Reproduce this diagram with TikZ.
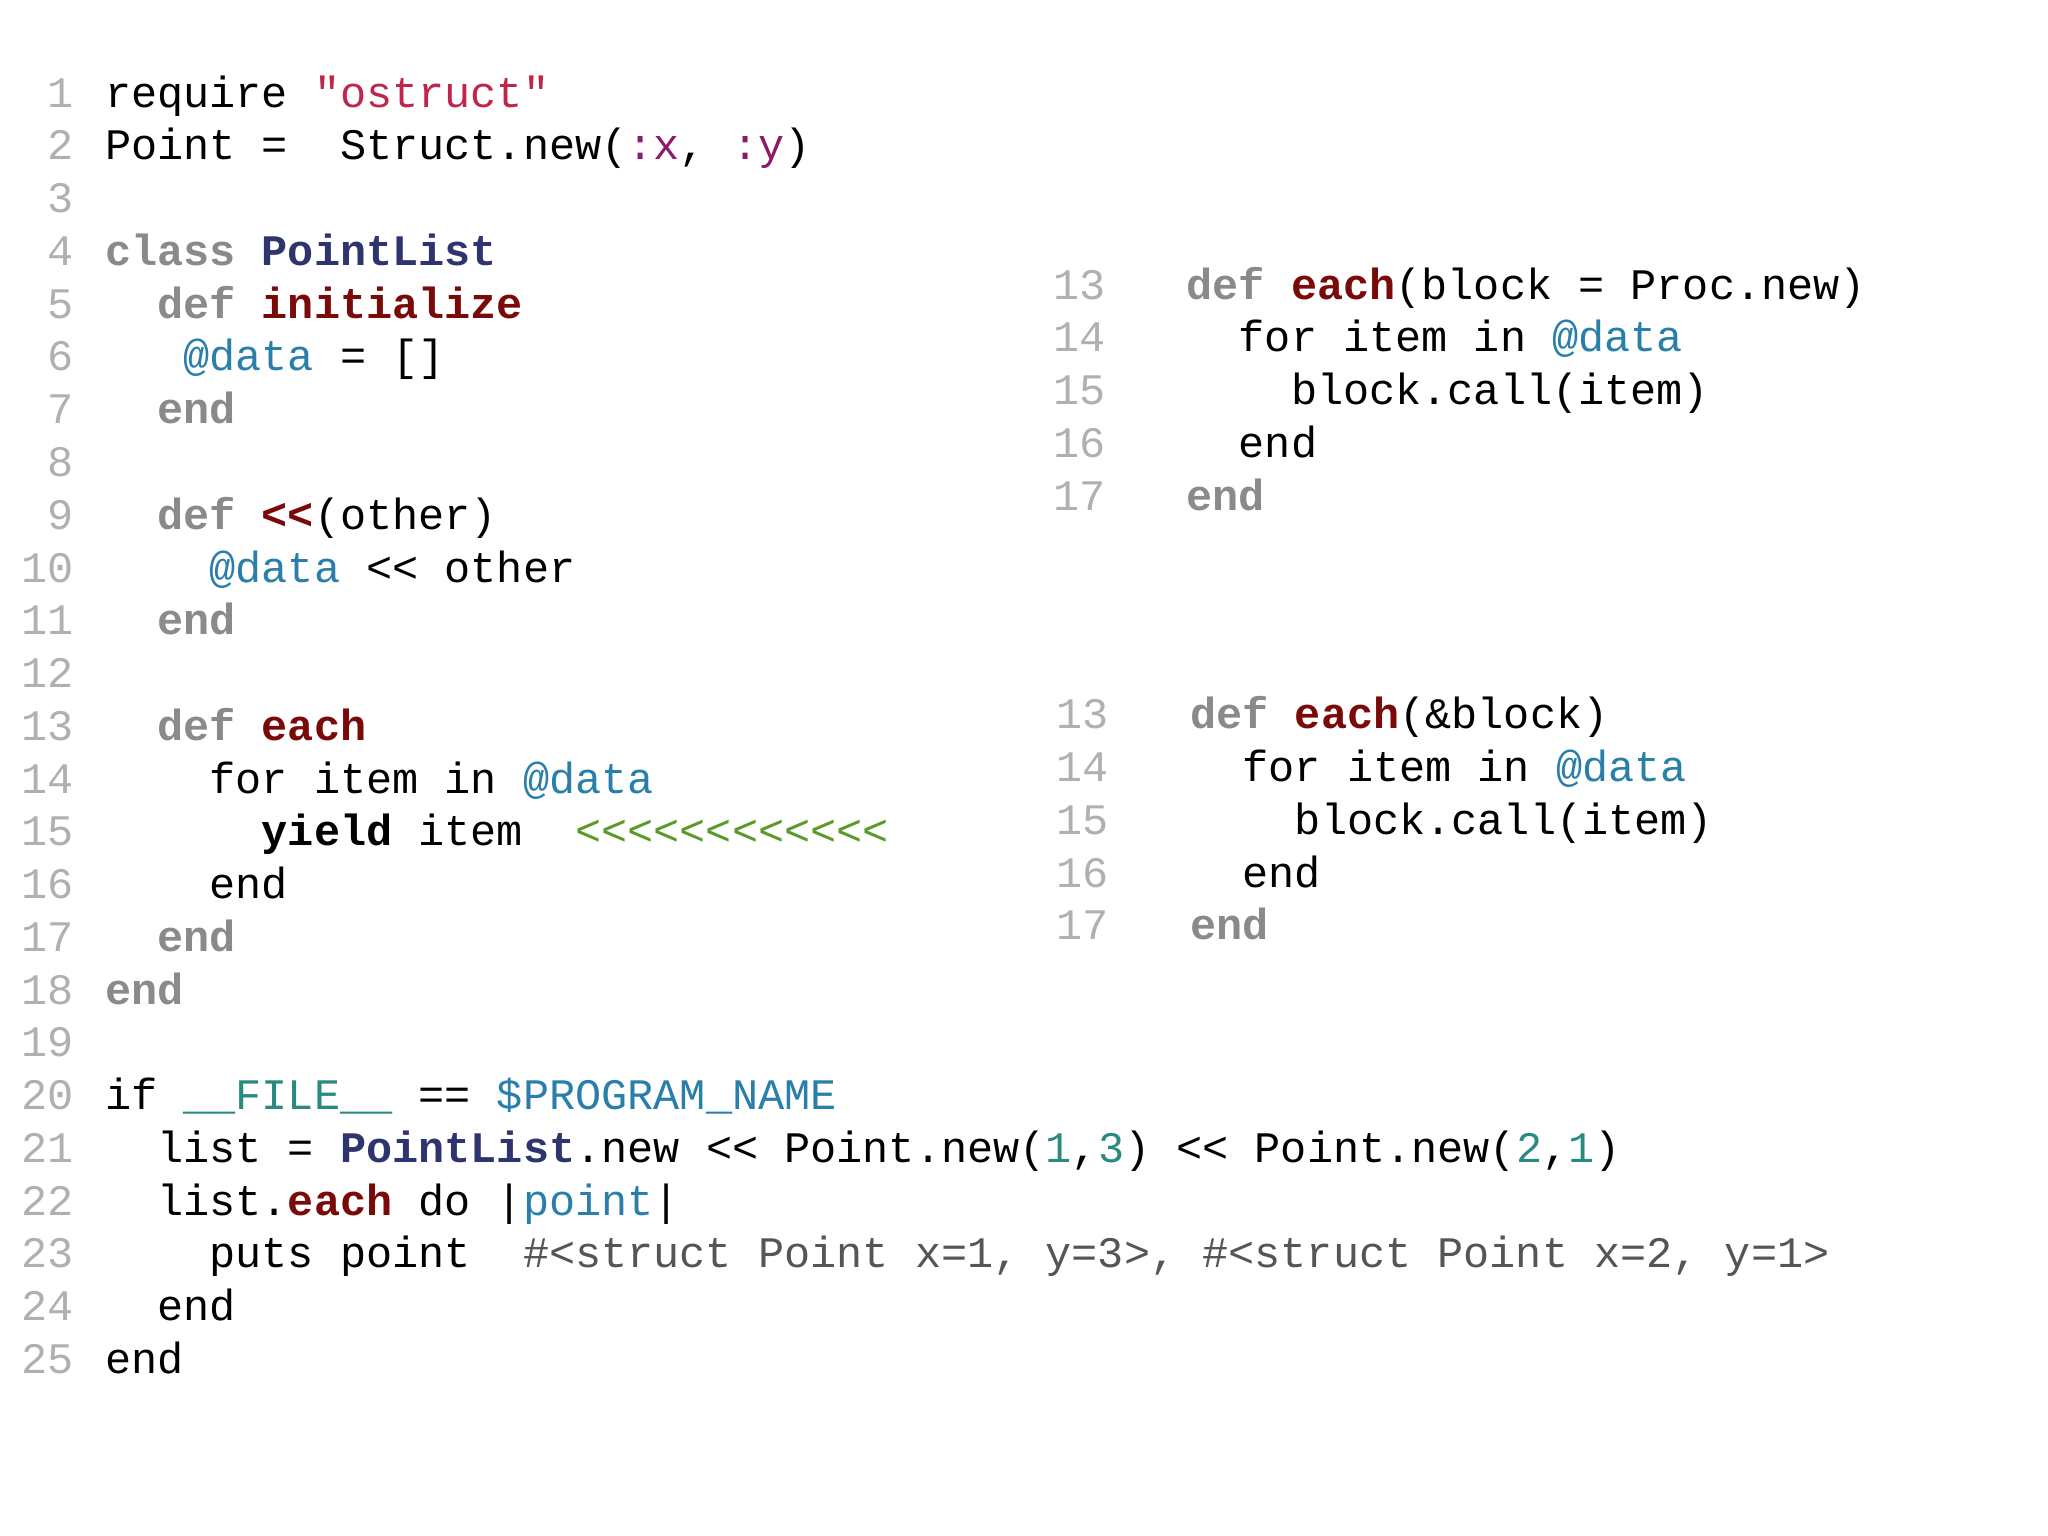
\documentclass[tikz,border=0pt]{standalone}
\usepackage{fontspec}
\setmainfont{Liberation Mono}[Ligatures=TeXOff]
\definecolor{kwc}{HTML}{8A8A8A}
\definecolor{fnc}{HTML}{7A0A0A}
\definecolor{clc}{HTML}{2E356E}
\definecolor{ivc}{HTML}{2A7FAA}
\definecolor{stc}{HTML}{C0254A}
\definecolor{syc}{HTML}{8B1A6B}
\definecolor{nuc}{HTML}{2A8A80}
\definecolor{grc}{HTML}{5A9A2A}
\definecolor{lnc}{HTML}{B0B0B0}
\definecolor{otc}{HTML}{555555}
\newcommand{\kw}[1]{\textbf{\color{kwc}#1}}
\newcommand{\fn}[1]{\textbf{\color{fnc}#1}}
\newcommand{\cl}[1]{\textbf{\color{clc}#1}}
\newcommand{\iv}[1]{{\color{ivc}#1}}
\newcommand{\numc}[1]{{\color{nuc}#1}}
\newcommand{\codeline}[4]{\node[lnum] (n#1) at (57,{82+(#2-1)*40.4}) {#2};
  \node[code] (c#1) at ({80+20*#3},{82+(#2-1)*40.4}) {#4};}
\begin{document}
\begin{tikzpicture}[x=0.5pt,y=-0.5pt,
  code/.style={anchor=base west,inner sep=0pt,font=\fontsize{16.67}{20}\selectfont},
  lnum/.style={anchor=base east,inner sep=0pt,text=lnc,font=\fontsize{16.67}{20}\selectfont}]
\useasboundingbox (0,0) rectangle (1568,1176);
\foreach \i in {3,8,12,19} {\node[lnum] (e\i) at (57,{82+(\i-1)*40.4}) {\i};}
\codeline{1}{1}{0}{require {\color{stc}"ostruct"}}
\codeline{2}{2}{0}{Point =\ \ Struct.new({\color{syc}:x}, {\color{syc}:y})}
\codeline{4}{4}{0}{\kw{class} \cl{PointList}}
\codeline{5}{5}{2}{\kw{def} \fn{initialize}}
\codeline{6}{6}{3}{\iv{@data} = []}
\codeline{7}{7}{2}{\kw{end}}
\codeline{9}{9}{2}{\kw{def} \fn{<<}(other)}
\codeline{10}{10}{4}{\iv{@data} << other}
\codeline{11}{11}{2}{\kw{end}}
\codeline{13}{13}{2}{\kw{def} \fn{each}}
\codeline{14}{14}{4}{for item in \iv{@data}}
\codeline{15}{15}{6}{\textbf{yield} item\ \ {\color{grc}<<<<<<<<<<<<}}
\codeline{16}{16}{4}{end}
\codeline{17}{17}{2}{\kw{end}}
\codeline{18}{18}{0}{\kw{end}}
\codeline{20}{20}{0}{if {\color{nuc}\_\_FILE\_\_} == \iv{\$PROGRAM\_NAME}}
\codeline{21}{21}{2}{list = \cl{PointList}.new << Point.new(\numc{1},\numc{3}) << Point.new(\numc{2},\numc{1})}
\codeline{22}{22}{2}{list.\fn{each} do |\iv{point}|}
\codeline{23}{23}{4}{puts point\ \ {\color{otc}\#<struct Point x=1, y=3>, \#<struct Point x=2, y=1>}}
\codeline{24}{24}{2}{end}
\codeline{25}{25}{0}{end}
\foreach \k/\t [count=\j from 0] in {13/{\kw{def} \fn{each}(block = Proc.new)},14/{\ \ for item in \iv{@data}},15/{\ \ \ \ block.call(item)},16/{\ \ end},17/{\kw{end}}} {
  \node[lnum] (ra\k) at (847,{229+\j*40.4}) {\k};
  \node[code] (rb\k) at (908,{229+\j*40.4}) {\t};
}
\foreach \k/\t [count=\j from 0] in {13/{\kw{def} \fn{each}(\&block)},14/{\ \ for item in \iv{@data}},15/{\ \ \ \ block.call(item)},16/{\ \ end},17/{\kw{end}}} {
  \node[lnum] (sa\k) at (849,{558+\j*40.4}) {\k};
  \node[code] (sb\k) at (911,{558+\j*40.4}) {\t};
}
\end{tikzpicture}
\end{document}
